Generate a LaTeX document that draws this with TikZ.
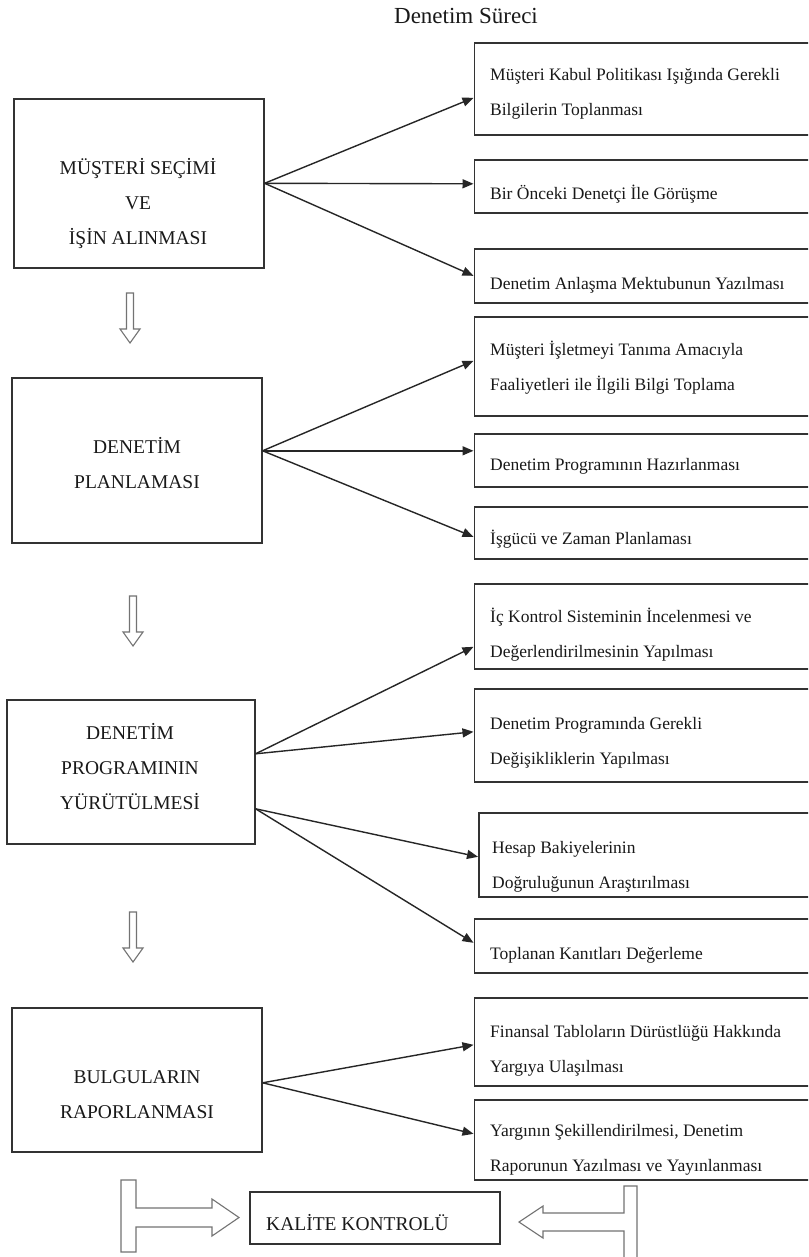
\documentclass[tikz,border=0pt]{standalone}
\usepackage{fontspec}
\setmainfont{Liberation Serif}
\usetikzlibrary{arrows.meta,calc}
\begin{document}
\begin{tikzpicture}[x=1pt,y=-1pt,
  box/.style={draw=black!80, line width=1.6pt, rectangle, inner sep=0pt},
  lbox/.style={box, anchor=north west},
  rbox/.style={box, anchor=north west, minimum width=360pt},
  ltxt/.style={font=\fontsize{19.5}{35}\selectfont, align=center, inner sep=0pt, text=black!90,
    execute at begin node=\strut, execute at end node=\strut},
  rtxt/.style={font=\fontsize{17.5}{35}\selectfont, align=left, inner sep=0pt, anchor=west, text=black!90,
    execute at begin node=\strut, execute at end node=\strut},
  conn/.style={draw=black!85, line width=1.4pt, -{Triangle[length=11pt,width=9pt]}},
  hollow/.style={draw=black!55, line width=1.1pt, fill=white, line join=miter},
  downarrow/.pic={\draw[hollow] (-3.5,0) -- (-3.5,36) -- (-10,36) -- (0,50) -- (10,36) -- (3.5,36) -- (3.5,0) -- cycle;}
]
\useasboundingbox (0,0) rectangle (808,1257);
\clip (0,0) rectangle (808,1257);
\fill[white] (0,0) rectangle (808,1257);

% title
\node[font=\fontsize{23}{26}\selectfont, anchor=base, text=black!90, inner sep=0pt] (title) at (466,23.5) {Denetim Süreci};

% left boxes
\node[lbox, minimum width=250pt, minimum height=169pt] (b1) at (13,98) {};
\node[ltxt] (t1) at (138,207) {MÜŞTERİ SEÇİMİ\\VE\\İŞİN ALINMASI};
\node[lbox, minimum width=250pt, minimum height=165pt] (b2) at (11,377) {};
\node[ltxt] (t2) at (137,468) {DENETİM\\PLANLAMASI};
\node[lbox, minimum width=248pt, minimum height=144pt] (b3) at (6,699) {};
\node[ltxt] (t3) at (130,772) {DENETİM\\PROGRAMININ\\YÜRÜTÜLMESİ};
\node[lbox, minimum width=250pt, minimum height=144pt] (b4) at (11,1007) {};
\node[ltxt] (t4) at (137,1100) {BULGULARIN\\RAPORLANMASI};

% right boxes
\node[rbox, minimum height=92pt] (r1) at (473.5,42) {};
\node[rtxt] (u1) at (490,97.5) {Müşteri Kabul Politikası Işığında Gerekli\\Bilgilerin Toplanması};
\node[rbox, minimum height=53pt] (r2) at (473.5,159) {};
\node[rtxt] (u2) at (490,193) {Bir Önceki Denetçi İle Görüşme};
\node[rbox, minimum height=54pt] (r3) at (473.5,248) {};
\node[rtxt] (u3) at (490,282) {Denetim Anlaşma Mektubunun Yazılması};
\node[rbox, minimum height=99pt] (r4) at (473.5,316) {};
\node[rtxt] (u4) at (490,371.5) {Müşteri İşletmeyi Tanıma Amacıyla\\Faaliyetleri ile İlgili Bilgi Toplama};
\node[rbox, minimum height=53pt] (r5) at (473.5,433) {};
\node[rtxt] (u5) at (490,463) {Denetim Programının Hazırlanması};
\node[rbox, minimum height=52pt] (r6) at (473.5,506) {};
\node[rtxt] (u6) at (490,537) {İşgücü ve Zaman Planlaması};
\node[rbox, minimum height=85pt] (r7) at (473.5,583) {};
\node[rtxt] (u7) at (490,638.5) {İç Kontrol Sisteminin İncelenmesi ve\\Değerlendirilmesinin Yapılması};
\node[rbox, minimum height=93pt] (r8) at (473.5,688) {};
\node[rtxt] (u8) at (490,746) {Denetim Programında Gerekli\\Değişikliklerin Yapılması};
\node[rbox, minimum height=84pt] (r9) at (478,812) {};
\node[rtxt] (u9) at (492,870) {Hesap Bakiyelerinin\\Doğruluğunun Araştırılması};
\node[rbox, minimum height=54pt] (r10) at (473.5,918) {};
\node[rtxt] (u10) at (490,952) {Toplanan Kanıtları Değerleme};
\node[rbox, minimum height=88pt] (r11) at (473.5,997) {};
\node[rtxt] (u11) at (490,1054) {Finansal Tabloların Dürüstlüğü Hakkında\\Yargıya Ulaşılması};
\node[rbox, minimum height=80pt] (r12) at (473.5,1099) {};
\node[rtxt] (u12) at (490,1153) {Yargının Şekillendirilmesi, Denetim\\Raporunun Yazılması  ve Yayınlanması};

% quality control box
\node[lbox, minimum width=250pt, minimum height=52pt] (k) at (249,1191) {};
\node[rtxt, font=\fontsize{19.5}{35}\selectfont] (kt) at (266,1223) {KALİTE KONTROLÜ};

% connectors
\draw[conn] (b1.east) -- ($(r1.west)+(0,9)$);
\draw[conn] (b1.east) -- ($(r2.west)+(0,-2.5)$);
\draw[conn] (b1.east) -- (r3.west);
\draw[conn] ($(b2.east)+(0,-9.5)$) -- ($(r4.west)+(0,-5.5)$);
\draw[conn] ($(b2.east)+(0,-9.5)$) -- ($(r5.west)+(0,-9.5)$);
\draw[conn] ($(b2.east)+(0,-9.5)$) -- ($(r6.west)+(0,4)$);
\draw[conn] ($(b3.east)+(0,-18)$) -- ($(r7.west)+(0,20.5)$);
\draw[conn] ($(b3.east)+(0,-18)$) -- ($(r8.west)+(0,-3.5)$);
\draw[conn] ($(b3.east)+(0,37)$) -- ($(r9.west)+(0,2)$);
\draw[conn] ($(b3.east)+(0,37)$) -- ($(r10.west)+(0,-3)$);
\draw[conn] ($(b4.east)+(0,3)$) -- ($(r11.west)+(0,3)$);
\draw[conn] ($(b4.east)+(0,3)$) -- ($(r12.west)+(0,-6)$);

% hollow down arrows
\pic (a1) at (130,293) {downarrow};
\pic (a2) at (133,596) {downarrow};
\pic (a3) at (133,912) {downarrow};

% T-shaped arrows towards quality control
\draw[hollow] (121,1180) -- (136,1180) -- (136,1208) -- (212,1208) -- (212,1199) -- (239,1217.5) -- (212,1236) -- (212,1227) -- (136,1227) -- (136,1252) -- (121,1252) -- cycle;
\draw[hollow] (637,1186) -- (624,1186) -- (624,1213) -- (543,1213) -- (543,1206) -- (519,1222) -- (543,1238) -- (543,1231) -- (624,1231) -- (624,1265) -- (637,1265) -- cycle;
\end{tikzpicture}
\end{document}
